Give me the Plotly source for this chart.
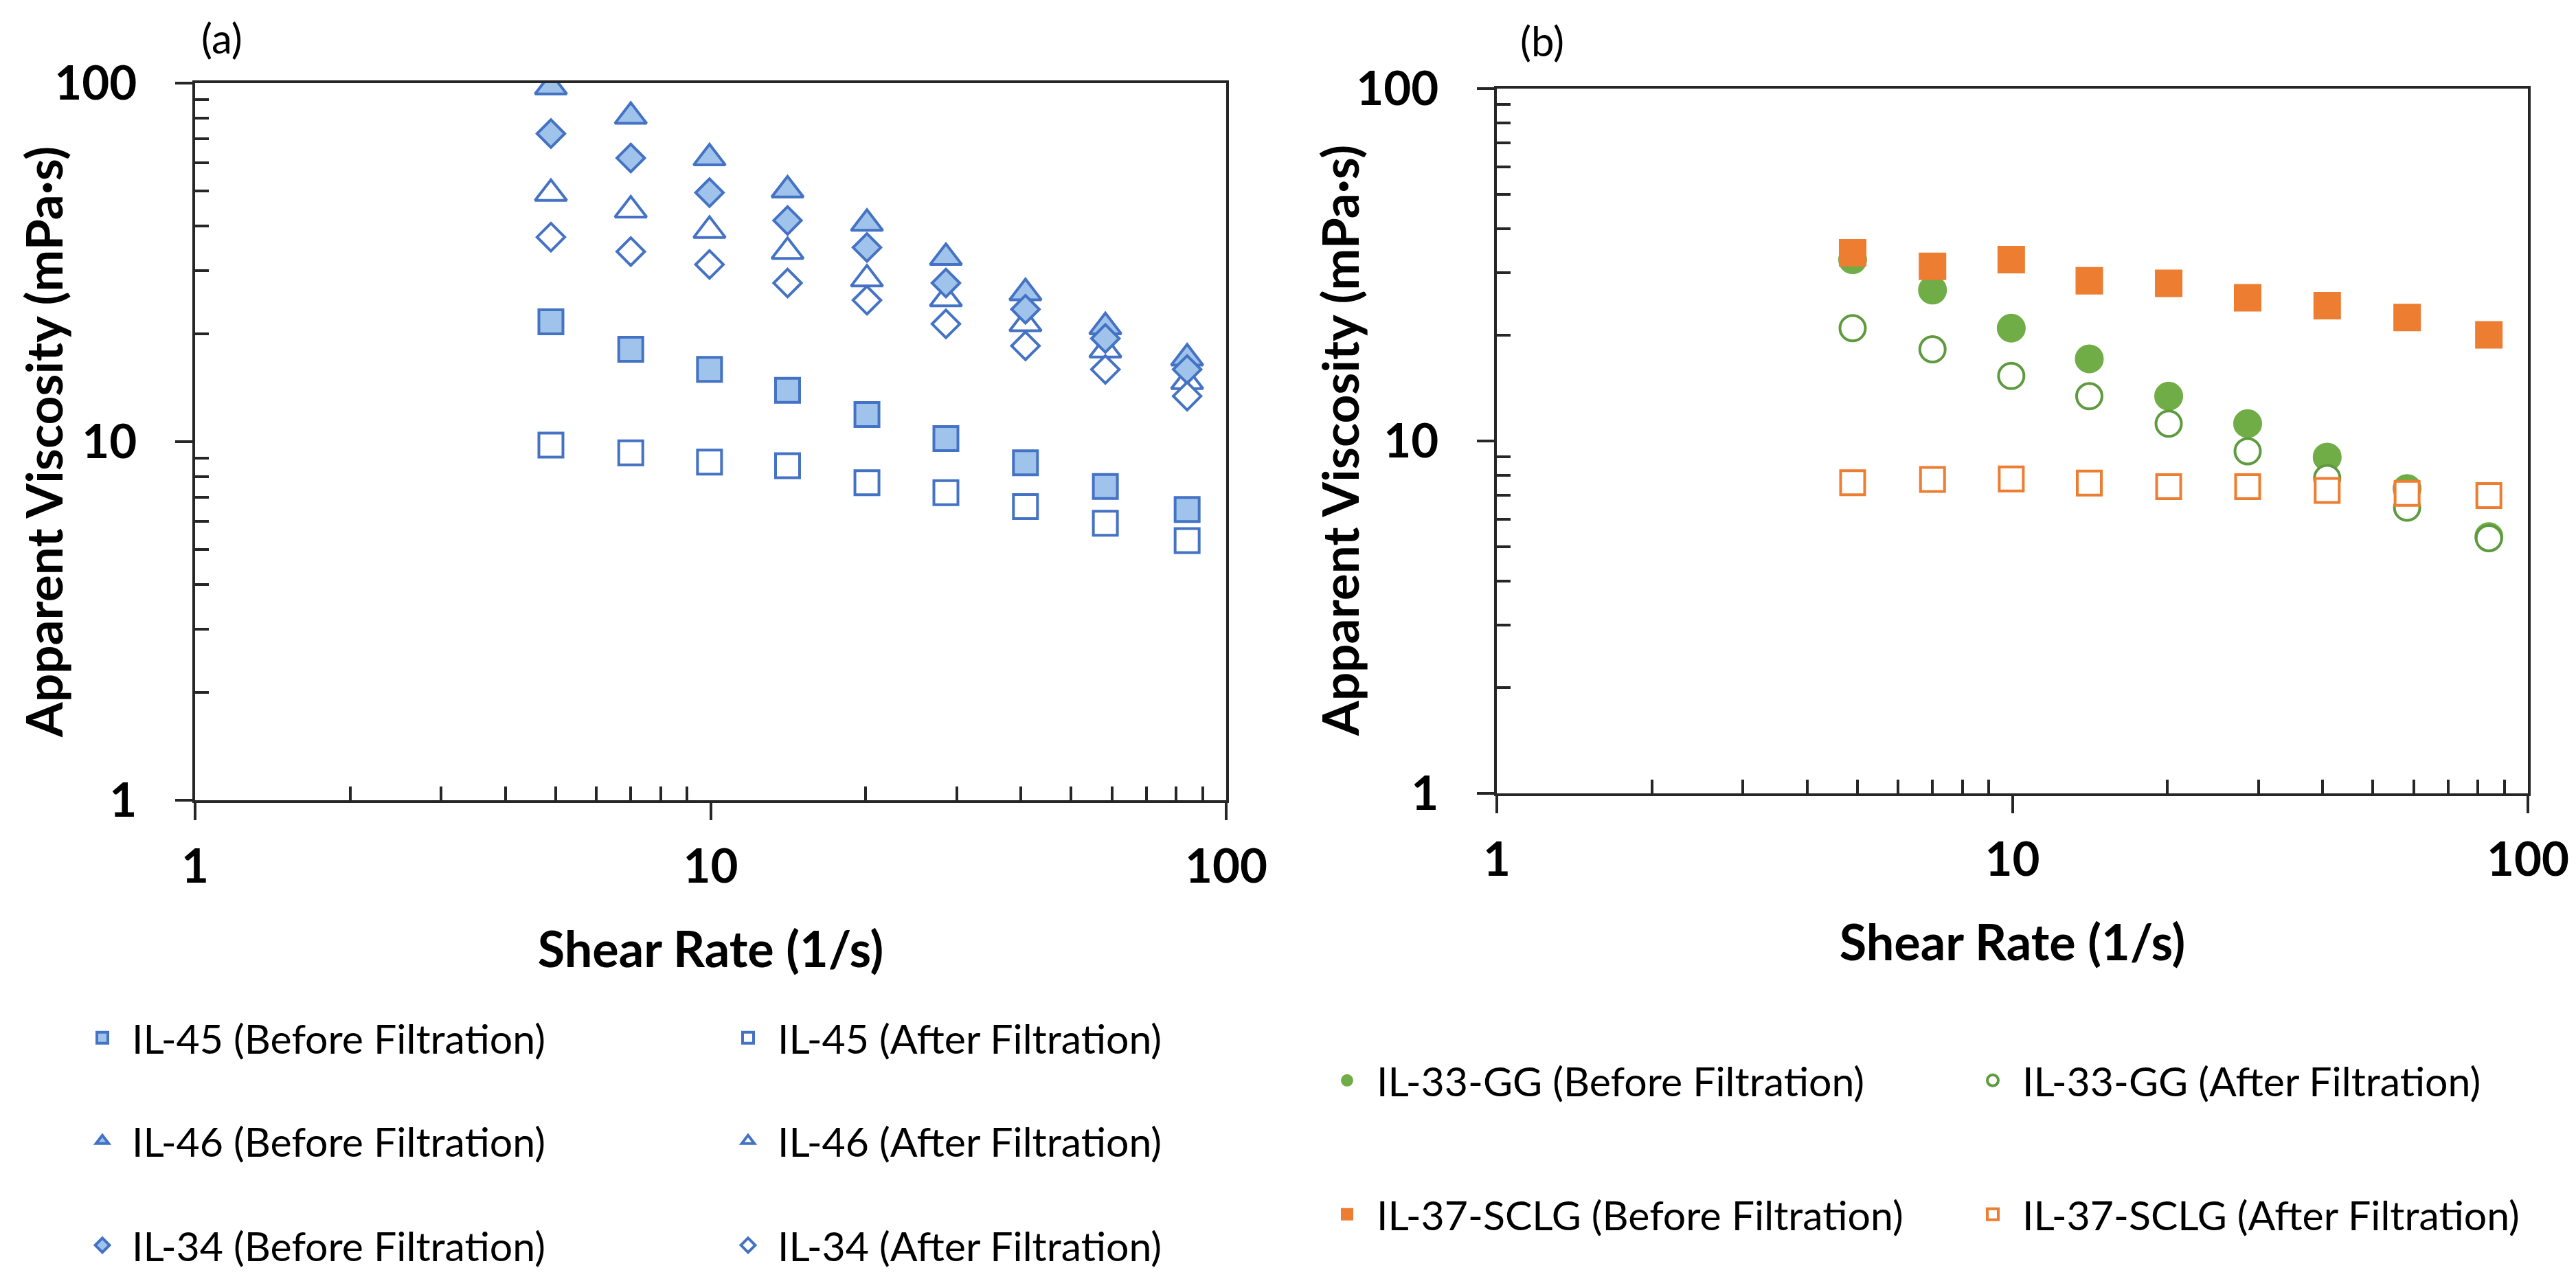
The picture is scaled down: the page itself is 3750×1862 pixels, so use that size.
import plotly.graph_objects as go

# ---------------- data ----------------
shear_rate = [4.9, 7.0, 9.95, 14.1, 20.1, 28.6, 40.8, 58.3, 84.0]

il45_before = [21.6, 18.1, 15.9, 13.9, 11.9, 10.2, 8.73, 7.5, 6.47]
il45_after = [9.78, 9.31, 8.77, 8.57, 7.68, 7.21, 6.59, 5.92, 5.30]
il46_before = [97.5, 80.7, 61.8, 50.3, 40.6, 32.6, 26.0, 20.9, 17.1]
il46_after = [49.2, 44.2, 38.8, 33.9, 28.4, 25.0, 21.3, 18.0, 14.7]
il34_before = [72.3, 61.8, 49.5, 41.4, 34.8, 27.7, 23.4, 19.4, 15.9]
il34_after = [37.2, 33.9, 31.2, 27.7, 24.8, 21.3, 18.5, 15.9, 13.4]

gg_before = [32.7, 26.8, 20.9, 17.1, 13.4, 11.2, 9.0, 7.33, 5.35]
gg_after = [20.9, 18.2, 15.3, 13.4, 11.2, 9.35, 7.85, 6.47, 5.3]
sclg_before = [34.2, 31.3, 32.7, 28.5, 28.0, 25.5, 24.2, 22.4, 20.0]
sclg_after = [7.61, 7.78, 7.8, 7.6, 7.42, 7.42, 7.24, 7.1, 7.0]

major_ticks = [1, 10, 100]
major_labels = ["1", "10", "100"]
minor_ticks = [2, 3, 4, 5, 6, 7, 8, 9, 20, 30, 40, 50, 60, 70, 80, 90]

x_title = "Shear Rate (1/s)"
y_title = "Apparent Viscosity (mPa·s)"

# ---------------- styles ----------------
BLUE = "#4472C4"
BLUE_FILL = "#9FC3EA"
GREEN = "#70AD47"
GREEN_EDGE = "#5E9A3E"
ORANGE = "#ED7D31"
AXIS = "#262626"
FONT = "Lato"

fig = go.Figure()


def add(x, y, name, symbol, size, fill, edge, lw, xa, ya, legend):
    fig.add_trace(go.Scatter(
        x=x, y=y, name=name, mode="markers", xaxis=xa, yaxis=ya,
        legend=legend, showlegend=True,
        marker=dict(symbol=symbol, size=size, color=fill,
                    line=dict(color=edge, width=lw)),
    ))


# panel (a)
add(shear_rate, il45_before, "IL-45 (Before Filtration)", "square", 35, BLUE_FILL, BLUE, 4, "x", "y", "legend")
add(shear_rate, il45_after, "IL-45 (After Filtration)", "square", 35, "white", BLUE, 4, "x", "y", "legend2")
add(shear_rate, il46_before, "IL-46 (Before Filtration)", "triangle-up", 40, BLUE_FILL, BLUE, 4, "x", "y", "legend3")
add(shear_rate, il46_after, "IL-46 (After Filtration)", "triangle-up", 40, "white", BLUE, 4, "x", "y", "legend4")
add(shear_rate, il34_before, "IL-34 (Before Filtration)", "diamond", 31, BLUE_FILL, BLUE, 4, "x", "y", "legend5")
add(shear_rate, il34_after, "IL-34 (After Filtration)", "diamond", 31, "white", BLUE, 4, "x", "y", "legend6")

# panel (b)
add(shear_rate, gg_before, "IL-33-GG (Before Filtration)", "circle", 40, GREEN, GREEN, 2, "x2", "y2", "legend7")
add(shear_rate, gg_after, "IL-33-GG (After Filtration)", "circle", 37, "white", GREEN_EDGE, 4, "x2", "y2", "legend8")
add(shear_rate, sclg_before, "IL-37-SCLG (Before Filtration)", "square", 38, ORANGE, ORANGE, 2, "x2", "y2", "legend9")
add(shear_rate, sclg_after, "IL-37-SCLG (After Filtration)", "square", 35, "white", ORANGE, 4, "x2", "y2", "legend10")

W, H = 3750, 1862


def xaxis(domain, anchor):
    return dict(
        domain=domain, anchor=anchor, type="log", range=[0, 2],
        showgrid=False, zeroline=False,
        showline=True, linecolor=AXIS, linewidth=4, mirror=True,
        ticks="outside", ticklen=25, tickwidth=4, tickcolor=AXIS,
        tickvals=major_ticks, ticktext=major_labels,
        tickfont=dict(family=FONT, size=69, color="black", weight="bold"),
        ticklabelstandoff=8,
        minor=dict(ticks="inside", ticklen=20, tickwidth=4, tickcolor=AXIS,
                   tickvals=minor_ticks, showgrid=False),
        title=dict(text=x_title, standoff=60,
                   font=dict(family=FONT, size=72, color="black", weight="bold")),
        automargin=False,
    )


def yaxis(domain, anchor):
    return dict(
        domain=domain, anchor=anchor, type="log", range=[0, 2],
        showgrid=False, zeroline=False,
        showline=True, linecolor=AXIS, linewidth=4, mirror=True,
        ticks="outside", ticklen=25, tickwidth=4, tickcolor=AXIS,
        tickvals=major_ticks, ticktext=major_labels,
        tickfont=dict(family=FONT, size=69, color="black", weight="bold"),
        ticklabelstandoff=42,
        minor=dict(ticks="inside", ticklen=20, tickwidth=4, tickcolor=AXIS,
                   tickvals=minor_ticks, showgrid=False),
        automargin=False,
    )


xa_dom = [276 / W, 1777 / W]
xb_dom = [2171 / W, 3672 / W]
ya_dom = [1 - 1157 / H, 1 - 113 / H]
yb_dom = [1 - 1147 / H, 1 - 121 / H]

legend_font = dict(family=FONT, size=59, color="black")


def leg(xpx, ypx):
    return dict(x=xpx / W, y=1 - ypx / H, xanchor="left", yanchor="middle",
                font=legend_font, itemwidth=76, bgcolor="rgba(0,0,0,0)",
                borderwidth=0, orientation="v")


a_col1, a_col2 = 98, 1038
a_rows = [1503, 1653, 1805]
b_col1, b_col2 = 1910, 2850
b_rows = [1565, 1760]


def ytitle(xpx, ypx):
    return dict(text=y_title, x=xpx / W, y=1 - ypx / H, xref="paper", yref="paper",
                xanchor="center", yanchor="middle", textangle=-90, showarrow=False,
                font=dict(family=FONT, size=73, color="black", weight="bold"))


fig.update_layout(
    width=W, height=H,
    margin=dict(l=0, r=0, t=0, b=0),
    paper_bgcolor="white", plot_bgcolor="white",
    font=dict(family=FONT, color="black"),
    showlegend=True,
    xaxis=xaxis(xa_dom, "y"),
    yaxis=yaxis(ya_dom, "x"),
    xaxis2=xaxis(xb_dom, "y2"),
    yaxis2=yaxis(yb_dom, "x2"),
    legend=leg(a_col1, a_rows[0]),
    legend2=leg(a_col2, a_rows[0]),
    legend3=leg(a_col1, a_rows[1]),
    legend4=leg(a_col2, a_rows[1]),
    legend5=leg(a_col1, a_rows[2]),
    legend6=leg(a_col2, a_rows[2]),
    legend7=leg(b_col1, b_rows[0]),
    legend8=leg(b_col2, b_rows[0]),
    legend9=leg(b_col1, b_rows[1]),
    legend10=leg(b_col2, b_rows[1]),
    annotations=[
        ytitle(55, 636),
        ytitle(1942, 634),
        dict(text="(a)", x=283 / W, y=1 - 47 / H, xref="paper", yref="paper",
             xanchor="left", yanchor="middle", showarrow=False,
             font=dict(family=FONT, size=60, color="black")),
        dict(text="(b)", x=2203 / W, y=1 - 51 / H, xref="paper", yref="paper",
             xanchor="left", yanchor="middle", showarrow=False,
             font=dict(family=FONT, size=60, color="black")),
    ],
)

fig.write_html("out.html")
